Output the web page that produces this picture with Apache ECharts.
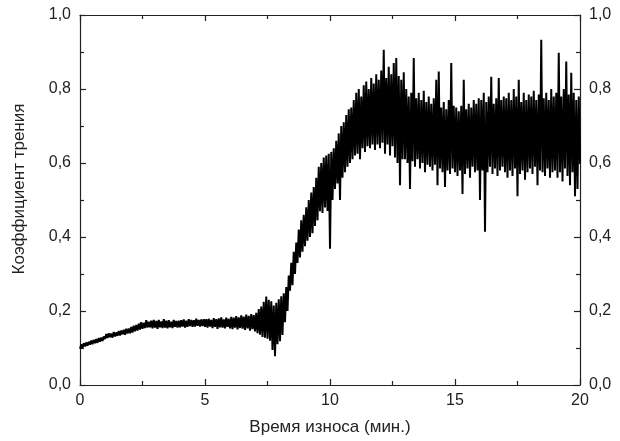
<!DOCTYPE html>
<html>
<head>
<meta charset="utf-8">
<script src="https://cdn.jsdelivr.net/npm/echarts@6/dist/echarts.min.js"></script>
<style>
  html, body { margin: 0; padding: 0; background: #fff; }
  #chart { width: 620px; height: 441px; }
</style>
</head>
<body>
<div id="chart"></div>
<script>
// sampling step of the recording, minutes
const timeStep = 0.05;

// friction coefficient, one row per minute (20 samples each)
// run-in: 0 .. 7 min
const frictionRunIn = [
  0.098,0.110,0.101,0.113,0.104,0.115,0.106,0.117,0.109,0.120,0.110,0.122,0.113,0.124,0.114,0.127,0.117,0.128,0.119,0.131,
  0.124,0.138,0.127,0.140,0.129,0.139,0.128,0.143,0.131,0.142,0.133,0.146,0.134,0.147,0.137,0.149,0.136,0.152,0.139,0.153,
  0.140,0.157,0.142,0.160,0.145,0.162,0.147,0.166,0.150,0.170,0.152,0.168,0.154,0.175,0.155,0.171,0.156,0.174,0.153,0.176,
  0.155,0.173,0.152,0.176,0.156,0.172,0.154,0.178,0.155,0.174,0.153,0.175,0.156,0.171,0.154,0.176,0.157,0.173,0.155,0.174,
  0.156,0.175,0.158,0.177,0.155,0.174,0.157,0.178,0.159,0.176,0.157,0.175,0.158,0.179,0.160,0.176,0.158,0.177,0.159,0.178,
  0.157,0.178,0.155,0.179,0.158,0.176,0.154,0.181,0.157,0.178,0.152,0.180,0.156,0.183,0.155,0.177,0.153,0.182,0.157,0.179,
  0.153,0.184,0.151,0.182,0.155,0.186,0.150,0.183,0.154,0.188,0.152,0.185,0.149,0.190,0.153,0.187,0.147,0.192,0.151,0.189
];
// transition: 7 .. 12 min
const frictionTransition = [
  0.145,0.195,0.140,0.205,0.136,0.212,0.130,0.225,0.128,0.239,0.125,0.230,0.120,0.226,0.095,0.215,0.078,0.222,0.110,0.232,
  0.118,0.240,0.135,0.248,0.170,0.265,0.200,0.296,0.255,0.330,0.270,0.360,0.300,0.385,0.330,0.420,0.345,0.445,0.360,0.460,
  0.375,0.480,0.390,0.500,0.400,0.520,0.410,0.535,0.430,0.560,0.445,0.590,0.470,0.600,0.465,0.615,0.480,0.620,0.470,0.625,
  0.368,0.630,0.500,0.640,0.530,0.660,0.545,0.680,0.500,0.700,0.560,0.710,0.575,0.730,0.590,0.745,0.600,0.750,0.610,0.770,
  0.620,0.790,0.625,0.800,0.610,0.780,0.640,0.810,0.630,0.820,0.645,0.800,0.640,0.830,0.650,0.815,0.635,0.840,0.650,0.825
];
// steady wear: 12 .. 20 min
const frictionSteady = [
  0.640,0.850,0.655,0.906,0.625,0.830,0.650,0.860,0.620,0.840,0.645,0.870,0.615,0.884,0.600,0.835,0.540,0.825,0.610,0.845,
  0.610,0.800,0.600,0.780,0.530,0.790,0.605,0.884,0.590,0.775,0.610,0.790,0.585,0.770,0.600,0.795,0.575,0.765,0.595,0.780,
  0.590,0.760,0.580,0.775,0.595,0.825,0.540,0.847,0.585,0.750,0.575,0.765,0.535,0.745,0.580,0.770,0.570,0.870,0.585,0.755,
  0.575,0.750,0.565,0.740,0.580,0.755,0.516,0.825,0.570,0.745,0.585,0.760,0.560,0.750,0.590,0.770,0.575,0.760,0.580,0.775,
  0.500,0.770,0.580,0.790,0.414,0.765,0.575,0.780,0.590,0.833,0.570,0.760,0.585,0.775,0.565,0.830,0.580,0.770,0.590,0.780,
  0.575,0.775,0.560,0.790,0.580,0.770,0.565,0.800,0.585,0.780,0.510,0.825,0.570,0.765,0.580,0.790,0.555,0.770,0.575,0.785,
  0.585,0.780,0.570,0.795,0.590,0.770,0.540,0.785,0.580,0.933,0.575,0.775,0.565,0.790,0.585,0.770,0.560,0.800,0.575,0.780,
  0.580,0.790,0.560,0.898,0.575,0.780,0.550,0.800,0.585,0.874,0.565,0.785,0.540,0.844,0.575,0.790,0.510,0.770,0.530,0.780,
  0.600
];

const xTicks = [0, 5, 10, 15, 20];
const yTicks = [0, 0.2, 0.4, 0.6, 0.8, 1.0];

const values = [...frictionRunIn, ...frictionTransition, ...frictionSteady];
const seriesData = values.map((v, i) => [+(i * timeStep).toFixed(2), v]);

const fontFamily = '"Liberation Sans", Arial, sans-serif';
const textColor = '#222';
const frameColor = '#222';

const fmtY = v => v.toFixed(1).replace('.', ',');

function xAxisOf(position, showLabels) {
  return {
    type: 'value',
    position,
    min: xTicks[0],
    max: xTicks[xTicks.length - 1],
    interval: 5,
    name: showLabels ? 'Время износа (мин.)' : '',
    nameLocation: 'middle',
    nameGap: 34,
    nameTextStyle: { fontFamily, fontSize: 17, color: textColor },
    axisLine: { show: true, onZero: false, lineStyle: { color: frameColor, width: 1.2 } },
    axisTick: { show: true, inside: true, length: 6, lineStyle: { color: frameColor, width: 1.2 } },
    minorTick: { show: true, splitNumber: 2, length: 4, lineStyle: { color: frameColor, width: 1.2 } },
    axisLabel: { show: showLabels, fontFamily, fontSize: 16, color: textColor, margin: 8 },
    splitLine: { show: false },
    minorSplitLine: { show: false }
  };
}

function yAxisOf(position) {
  return {
    type: 'value',
    position,
    min: yTicks[0],
    max: yTicks[yTicks.length - 1],
    interval: 0.2,
    name: position === 'left' ? 'Коэффициент трения' : '',
    nameLocation: 'middle',
    nameGap: 52,
    nameTextStyle: { fontFamily, fontSize: 17, color: textColor, padding: [0, 0, 0, 22] },
    axisLine: { show: true, onZero: false, lineStyle: { color: frameColor, width: 1.2 } },
    axisTick: { show: true, inside: true, length: 6, lineStyle: { color: frameColor, width: 1.2 } },
    minorTick: { show: true, splitNumber: 2, length: 4, lineStyle: { color: frameColor, width: 1.2 } },
    axisLabel: { show: true, fontFamily, fontSize: 16, color: textColor, margin: 9, formatter: fmtY },
    splitLine: { show: false },
    minorSplitLine: { show: false }
  };
}

const chart = echarts.init(document.getElementById('chart'), null, { renderer: 'canvas' });

chart.setOption({
  animation: false,
  backgroundColor: '#fff',
  grid: { left: 80, right: 40, top: 15, bottom: 54 },
  xAxis: [xAxisOf('bottom', true), xAxisOf('top', false)],
  yAxis: [yAxisOf('left'), yAxisOf('right')],
  series: [
    {
      type: 'line',
      xAxisIndex: 0,
      yAxisIndex: 0,
      data: seriesData,
      showSymbol: false,
      symbol: 'none',
      sampling: null,
      lineStyle: { color: '#000', width: 2, join: 'bevel' },
      z: 1
    }
  ]
});
</script>
</body>
</html>
